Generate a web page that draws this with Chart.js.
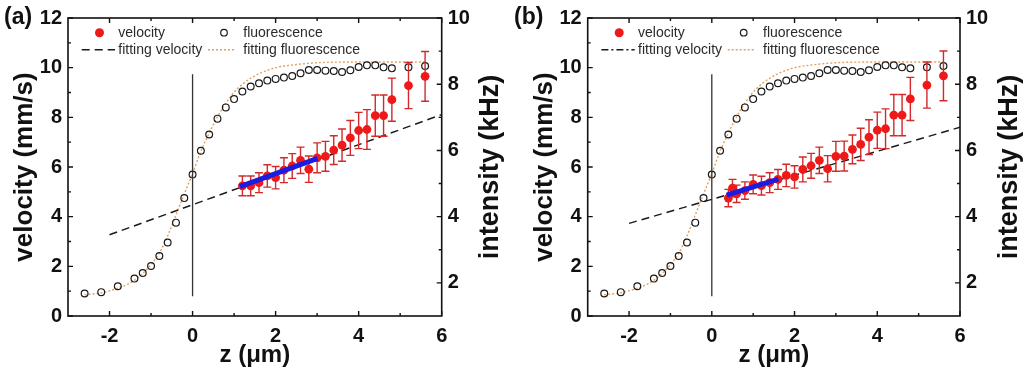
<!DOCTYPE html>
<html><head><meta charset="utf-8">
<script src="https://cdn.jsdelivr.net/npm/chart.js@4.4.1/dist/chart.umd.min.js"></script>
<style>
html,body{margin:0;padding:0;background:#fff;}
#wrap{position:relative;width:1028px;height:374px;overflow:hidden;background:#fff;}
.panel{position:absolute;top:0;height:374px;}
.lab{position:absolute;top:3px;font:bold 23px "Liberation Sans",Arial,sans-serif;color:#111;}
</style></head><body>
<div id="wrap">
 <div class="panel" style="left:0;width:510px"><canvas id="ca" width="510" height="374"></canvas></div>
 <div class="panel" style="left:520px;width:508px"><canvas id="cb" width="508" height="374"></canvas></div>
 <div class="lab" style="left:4px">(a)</div>
 <div class="lab" style="left:514px">(b)</div>
</div>
<script>
// ---- tick values ----
const xMajor = [-2, 0, 2, 4, 6];
const xMinor = [-1, 1, 3, 5];
const yMajor = [0, 2, 4, 6, 8, 10, 12];
const yMinor = [1, 3, 5, 7, 9, 11];
const y2Major = [2, 4, 6, 8, 10];
const y2Minor = [3, 5, 7, 9];

// ---- fluorescence (kHz), same in both panels ----
const zFluo = [-2.6,-2.2,-1.8,-1.4,-1.2,-1.0,-0.8,-0.6,-0.4,-0.2,0,0.2,0.4,0.6,0.8,1.0,1.2,1.4,1.6,1.8,2.0,2.2,2.4,2.6,2.8,3.0,3.2,3.4,3.6,3.8,4.0,4.2,4.4,4.6,4.8,5.2,5.6];
const fluo  = [1.68,1.72,1.90,2.13,2.30,2.51,2.81,3.22,3.82,4.56,5.27,5.99,6.48,6.96,7.30,7.55,7.78,7.93,8.03,8.11,8.16,8.20,8.25,8.33,8.43,8.43,8.41,8.40,8.37,8.42,8.52,8.57,8.57,8.51,8.48,8.51,8.55];

// ---- fitting fluorescence curve ----
const zFitFluo = [-2.6,-2.2,-1.8,-1.4,-1.0,-0.8,-0.6,-0.4,-0.2,0,0.2,0.4,0.6,0.8,1.0,1.2,1.4,1.6,1.8,2.0,2.4,2.8,3.2,4.0,5.0,5.6];
const fitFluo  = [1.64,1.70,1.84,2.08,2.55,2.90,3.42,4.05,4.68,5.30,5.98,6.52,7.02,7.42,7.76,8.00,8.18,8.32,8.42,8.50,8.58,8.63,8.66,8.67,8.67,8.67];

// ---- velocity (mm/s), panel a ----
const zVelA = [1.2,1.4,1.6,1.8,2.0,2.2,2.4,2.6,2.8,3.0,3.2,3.4,3.6,3.8,4.0,4.2,4.4,4.6,4.8,5.2,5.6];
const velA  = [5.24,5.24,5.37,5.64,5.57,5.87,6.04,6.27,5.91,6.37,6.43,6.68,6.88,7.17,7.47,7.51,8.07,8.07,8.71,9.28,9.65];
const errA  = [0.40,0.40,0.40,0.45,0.45,0.50,0.50,0.53,0.53,0.60,0.60,0.58,0.65,0.70,0.73,0.80,0.83,0.83,0.87,0.93,1.00];

// ---- velocity (mm/s), panel b ----
const zVelB = [0.4,0.5,0.6,0.8,1.0,1.2,1.4,1.6,1.8,2.0,2.2,2.4,2.6,2.8,3.0,3.2,3.4,3.6,3.8,4.0,4.2,4.4,4.6,4.8,5.2,5.6];
const velB  = [4.75,5.15,4.92,5.05,5.30,5.25,5.37,5.50,5.66,5.60,5.90,6.05,6.27,5.93,6.43,6.44,6.71,6.91,7.20,7.48,7.54,8.09,8.09,8.74,9.30,9.67];
const errB  = [0.35,0.35,0.35,0.35,0.38,0.38,0.40,0.40,0.45,0.45,0.50,0.50,0.53,0.53,0.60,0.60,0.58,0.65,0.70,0.73,0.80,0.83,0.83,0.87,0.93,1.00];

// ---- fitted velocity lines ----
const zFit  = [-2, 6];
const vFitA = [3.27, 8.11];
const vFitB = [3.73, 7.60];

// ---- blue segments ----
const zBlueA = [1.14, 3.01];
const vBlueA = [5.21, 6.35];
const zBlueB = [0.36, 1.61];
const vBlueB = [4.87, 5.51];

// ---- vertical marker at z = 0 ----
const zMark = [0, 0];
const vMark = [0.8, 9.73];

const FONT = '"Liberation Sans", Arial, sans-serif';
const zip = (xs, ys) => xs.map((x, i) => ({x: x, y: ys[i]}));

const deco = {
  id: 'deco',
  beforeDatasetDraw(chart, args) {
    const ds = chart.data.datasets[args.index];
    if (!ds.errors) return;
    const ctx = chart.ctx, xs = chart.scales.x, ys = chart.scales.y;
    ctx.save();
    ctx.strokeStyle = '#d22a2a';
    ctx.lineWidth = 1.4;
    ds.data.forEach((p, i) => {
      const px = xs.getPixelForValue(p.x);
      const t = ys.getPixelForValue(p.y + ds.errors[i]);
      const b = ys.getPixelForValue(p.y - ds.errors[i]);
      ctx.beginPath();
      ctx.moveTo(px, t); ctx.lineTo(px, b);
      ctx.moveTo(px - 4, t); ctx.lineTo(px + 4, t);
      ctx.moveTo(px - 4, b); ctx.lineTo(px + 4, b);
      ctx.stroke();
    });
    ctx.restore();
  },
  afterDraw(chart) {
    const ctx = chart.ctx, a = chart.chartArea;
    const xs = chart.scales.x, ys = chart.scales.y, y2 = chart.scales.y2;
    ctx.save();
    // frame
    ctx.strokeStyle = '#111';
    ctx.lineWidth = 1.6;
    ctx.strokeRect(a.left, a.top, a.right - a.left, a.bottom - a.top);
    ctx.lineWidth = 1.4;
    ctx.beginPath();
    const tx = (vals, len) => vals.forEach(v => {
      const px = xs.getPixelForValue(v);
      ctx.moveTo(px, a.bottom); ctx.lineTo(px, a.bottom - len);
      ctx.moveTo(px, a.top); ctx.lineTo(px, a.top + len);
    });
    tx(xMajor, 5); tx(xMinor, 3);
    const tl = (vals, len) => vals.forEach(v => {
      const py = ys.getPixelForValue(v);
      ctx.moveTo(a.left, py); ctx.lineTo(a.left + len, py);
    });
    tl(yMajor, 5); tl(yMinor, 3);
    const tr = (vals, len) => vals.forEach(v => {
      const py = y2.getPixelForValue(v);
      ctx.moveTo(a.right, py); ctx.lineTo(a.right - len, py);
    });
    tr(y2Major, 5); tr(y2Minor, 3);
    ctx.stroke();

    // right axis title (reads bottom-to-top)
    ctx.fillStyle = '#111';
    ctx.font = 'bold 27px ' + FONT;
    ctx.textAlign = 'center';
    ctx.textBaseline = 'middle';
    ctx.translate(a.right + 49.3, (a.top + a.bottom) / 2);
    ctx.rotate(-Math.PI / 2);
    ctx.fillText(y2.options.title.text, 0, 0);
    ctx.setTransform(1, 0, 0, 1, 0, 0);

    // legend
    const L = a.left, r1 = a.top + 14.7, r2 = a.top + 31.7;
    const dsets = chart.data.datasets;
    const lab = n => dsets.find(d => d.key === n).label;
    ctx.font = '14px ' + FONT;
    ctx.fillStyle = '#2a2a2a';
    ctx.textAlign = 'left';
    ctx.textBaseline = 'middle';
    ctx.fillText(lab('vel'), L + 50.3, r1);
    ctx.fillText(lab('fluo'), L + 175.3, r1);
    ctx.fillText(lab('fitvel'), L + 50.3, r2);
    ctx.fillText(lab('fitfluo'), L + 175.3, r2);
    ctx.beginPath();
    ctx.fillStyle = '#ee1a1a';
    ctx.arc(L + 31.5, r1, 4.5, 0, Math.PI * 2);
    ctx.fill();
    ctx.beginPath();
    ctx.strokeStyle = '#1a1a1a';
    ctx.lineWidth = 1.2;
    ctx.arc(L + 156, r1, 3.3, 0, Math.PI * 2);
    ctx.stroke();
    ctx.beginPath();
    ctx.setLineDash(chart.options.plugins.deco.legendDash);
    ctx.lineWidth = 1.5;
    ctx.moveTo(L + 13.7, r2); ctx.lineTo(L + 47, r2);
    ctx.stroke();
    ctx.beginPath();
    ctx.setLineDash([2, 2]);
    ctx.strokeStyle = '#e3a064';
    ctx.lineWidth = 1.4;
    ctx.moveTo(L + 140, r2); ctx.lineTo(L + 166, r2);
    ctx.stroke();
    ctx.restore();
  }
};

function makePanel(p) {
  const tickFont = {family: FONT, size: 20, weight: 'bold'};
  new Chart(document.getElementById(p.id), {
    type: 'scatter',
    data: {
      datasets: [
        {key: 'blue', label: 'linear fit', data: zip(p.zBlue, p.vBlue), yAxisID: 'y', showLine: true,
         borderColor: '#1c1ce0', borderWidth: 5, pointRadius: 0, order: 0},
        {key: 'vel', label: 'velocity', data: zip(p.zVel, p.vel), errors: p.err, yAxisID: 'y', showLine: false,
         pointRadius: 4.4, pointBackgroundColor: '#ee1a1a', pointBorderWidth: 0, order: 1},
        {key: 'fitvel', label: 'fitting velocity', data: zip(zFit, p.vFit), yAxisID: 'y', showLine: true,
         borderColor: '#1a1a1a', borderWidth: 1.5, borderDash: [8, 5], pointRadius: 0, order: 2},
        {key: 'mark', label: 'z = 0', data: zip(zMark, vMark), yAxisID: 'y', showLine: true,
         borderColor: '#333', borderWidth: 1.3, pointRadius: 0, order: 3},
        {key: 'fluo', label: 'fluorescence', data: zip(zFluo, fluo), yAxisID: 'y2', showLine: false,
         pointRadius: 3.4, pointBorderColor: '#1a1a1a', pointBorderWidth: 1.2,
         pointBackgroundColor: 'rgba(255,255,255,0)', order: 4},
        {key: 'fitfluo', label: 'fitting fluorescence', data: zip(zFitFluo, fitFluo), yAxisID: 'y2', showLine: true,
         borderColor: '#e3a064', borderWidth: 1.4, borderDash: [2, 2], pointRadius: 0,
         cubicInterpolationMode: 'monotone', order: 5}
      ]
    },
    options: {
      responsive: false,
      animation: false,
      events: [],
      layout: {padding: {top: 16, left: 0, right: 0, bottom: 0}},
      plugins: {legend: {display: false}, tooltip: {enabled: false}, deco: {legendDash: p.legendDash}},
      scales: {
        x: {
          type: 'linear', position: 'bottom', min: -3, max: 6,
          afterBuildTicks: s => { s.ticks = xMajor.map(v => ({value: v})); },
          afterFit: s => { s.height = 58; },
          grid: {display: false, drawTicks: false}, border: {display: false},
          ticks: {font: tickFont, color: '#111', padding: 8, maxRotation: 0},
          title: {display: true, text: 'z (μm)', color: '#111', font: {family: FONT, size: 24, weight: 'bold'},
                  padding: {top: 0, bottom: 4}}
        },
        y: {
          type: 'linear', position: 'left', min: 0, max: 12,
          afterBuildTicks: s => { s.ticks = yMajor.map(v => ({value: v})); },
          afterFit: s => { s.width = p.leftW; },
          grid: {display: false, drawTicks: false}, border: {display: false},
          ticks: {font: tickFont, color: '#111', padding: 6},
          title: {display: true, text: 'velocity (mm/s)', color: '#111', font: {family: FONT, size: 26, weight: 'bold'},
                  padding: {top: 9, bottom: 0}}
        },
        y2: {
          type: 'linear', position: 'right', min: 1, max: 10,
          afterBuildTicks: s => { s.ticks = y2Major.map(v => ({value: v})); },
          afterFit: s => { s.width = p.rightW; },
          grid: {display: false, drawTicks: false}, border: {display: false},
          ticks: {font: tickFont, color: '#111', padding: 6},
          title: {display: false, text: 'intensity (kHz)'}
        }
      }
    },
    plugins: [deco]
  });
}

makePanel({id: 'ca', leftW: 68, rightW: 68.3, zVel: zVelA, vel: velA, err: errA, vFit: vFitA,
           zBlue: zBlueA, vBlue: vBlueA, legendDash: [8, 5]});
makePanel({id: 'cb', leftW: 67.7, rightW: 68, zVel: zVelB, vel: velB, err: errB, vFit: vFitB,
           zBlue: zBlueB, vBlue: vBlueB, legendDash: [7, 3, 2, 3]});
</script>
</body></html>
